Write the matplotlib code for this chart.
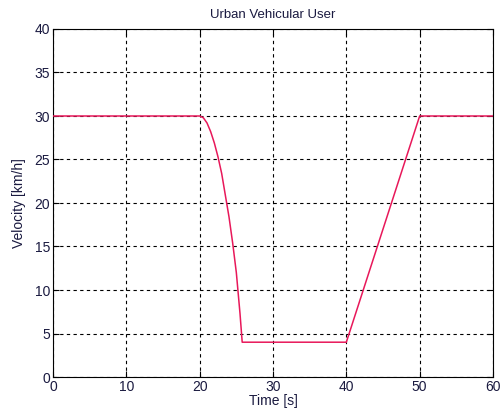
import matplotlib
matplotlib.use('Agg')
import matplotlib.pyplot as plt

# time [s] and velocity [km/h]
time = [0, 20, 20.5, 21, 21.5, 22, 22.5, 23, 23.5, 24, 24.5, 25, 25.5, 25.8, 40, 50, 60]
velocity = [30, 30, 29.8, 29.2, 28.2, 26.9, 25.3, 23.4, 20.9, 18.4, 15.4, 12.0, 7.3, 4.0, 4.0, 30, 30]

xticks = [0, 10, 20, 30, 40, 50, 60]
yticks = [0, 5, 10, 15, 20, 25, 30, 35, 40]

plt.rcParams['font.family'] = ['Liberation Sans', 'DejaVu Sans']
plt.rcParams['font.size'] = 10

fig = plt.figure(figsize=(5.02, 4.19), dpi=100)
ax = fig.add_axes([53/502, 1 - 377/419, 440/502, 348/419])

ax.plot(time, velocity, '-', color='#e8185a', linewidth=1.1, zorder=3)

ax.set_xlim(0, 60)
ax.set_ylim(0, 40)
ax.set_xticks(xticks)
ax.set_yticks(yticks)
ax.grid(True, color='black', linestyle=(0, (3, 3)), linewidth=0.8)
ax.tick_params(direction='in', top=True, right=True, length=4, labelcolor='#1a1a40', pad=2)
for s in ax.spines.values():
    s.set_linewidth(0.8)

ax.set_title('Urban Vehicular User', fontsize=9.5, color='#1a1a40', pad=8)
ax.set_xlabel('Time [s]', fontsize=10, color='#1a1a40', labelpad=0)
ax.set_ylabel('Velocity [km/h]', fontsize=10, color='#1a1a40', labelpad=6)

plt.savefig('out.png', dpi=100)
